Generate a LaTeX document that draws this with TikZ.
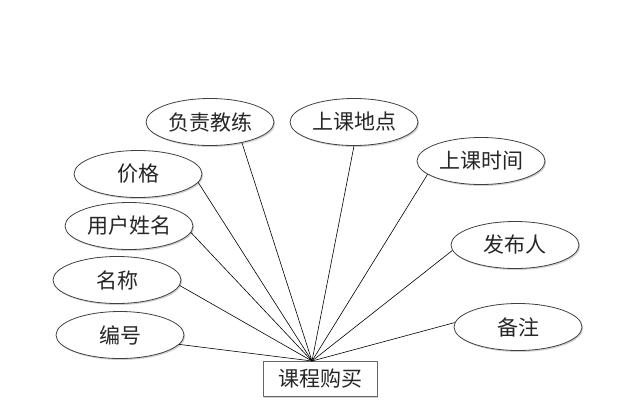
\documentclass[tikz,border=0pt]{standalone}
\usepackage{fontspec}
\newfontfamily\cjk{Noto Sans CJK SC}
\usetikzlibrary{shapes.geometric,shadows}
\begin{document}
\begin{tikzpicture}[x=1pt,y=-1pt,
  attr/.style={ellipse, draw=black!75, line width=0.8pt, fill=white,
    minimum width=128pt, minimum height=47pt, inner sep=0pt,
    font=\cjk\fontsize{21}{22}\selectfont, text=black!85,
    drop shadow={shadow xshift=1.2pt, shadow yshift=-1.5pt, fill=black!18, opacity=1}},
  ent/.style={rectangle, draw=black!60, line width=0.9pt, fill=white,
    minimum width=114pt, minimum height=35pt, inner sep=0pt,
    font=\cjk\fontsize{21}{22}\selectfont, text=black!85,
    drop shadow={shadow xshift=1.2pt, shadow yshift=-1.5pt, fill=black!18, opacity=1}},
  link/.style={draw=black, line width=0.6pt}]
\useasboundingbox (0,0) rectangle (642,413);
\node[attr] (fzjl) at (210,122) {负责教练};
\node[attr] (skdd) at (354,122) {上课地点};
\node[attr] (sksj) at (481,161) {上课时间};
\node[attr] (fbr) at (515,245) {发布人};
\node[attr] (bz) at (518,327) {备注};
\node[attr] (jg) at (138,174) {价格};
\node[attr] (yhxm) at (129,226) {用户姓名};
\node[attr] (mc) at (117,280) {名称};
\node[attr] (bh) at (120,335) {编号};
\node[ent] (kcgm) at (320,379) {课程购买};
\coordinate (hub) at (312,361);
\draw[link] (fzjl.-33) -- (hub);
\draw[link] (skdd.south) -- (hub);
\draw[link] (sksj.194) -- (hub);
\draw[link] (fbr.185) -- (hub);
\draw[link] (bz.176) -- (hub);
\draw[link] (jg.-8) -- (hub);
\draw[link] (yhxm.-6) -- (hub);
\draw[link] (mc.-5) -- (hub);
\draw[link] (bh.-9) -- (hub);
\end{tikzpicture}
\end{document}
